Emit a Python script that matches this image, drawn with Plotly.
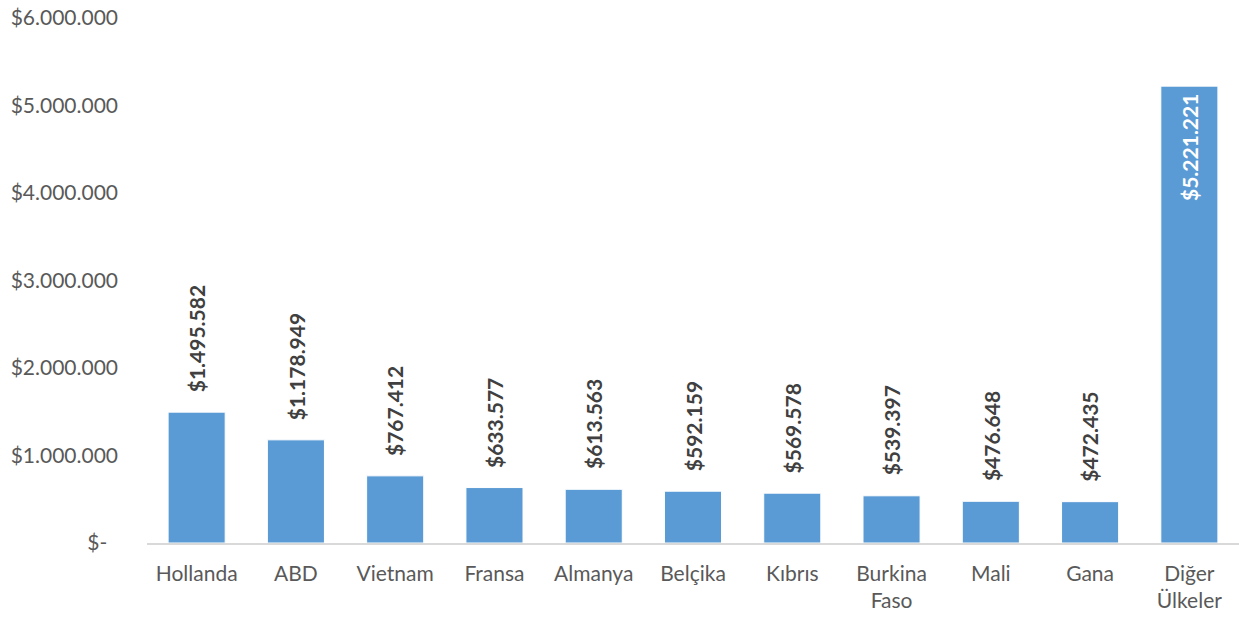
import plotly.graph_objects as go

categories = ["Hollanda", "ABD", "Vietnam", "Fransa", "Almanya", "Belçika", "Kıbrıs",
              "Burkina<br>Faso", "Mali", "Gana", "Diğer<br>Ülkeler"]
values = [1495582, 1178949, 767412, 633577, 613563, 592159, 569578, 539397, 476648, 472435, 5221221]
tick_vals = [0, 1000000, 2000000, 3000000, 4000000, 5000000, 6000000]
tick_text = ["$-  ", "$1.000.000", "$2.000.000", "$3.000.000", "$4.000.000", "$5.000.000", "$6.000.000"]

def fmt(v):
    return "$" + f"{v:,}".replace(",", ".")

FONT = "Lato, Carlito, Calibri, sans-serif"

fig = go.Figure(go.Bar(
    x=categories, y=values,
    marker=dict(color="#5B9BD5", line=dict(color="white", width=1)),
    width=0.575,
    hoverinfo="skip",
))

annotations = []
max_v = max(values)
for c, v in zip(categories, values):
    if v == max_v:
        annotations.append(dict(x=c, y=v, text=fmt(v), textangle=-90, showarrow=False,
                                yanchor="top", yshift=-6,
                                font=dict(family=FONT, size=21, color="white", weight="bold")))
    else:
        annotations.append(dict(x=c, y=v, text=fmt(v), textangle=-90, showarrow=False,
                                yanchor="bottom", yshift=18,
                                font=dict(family=FONT, size=21, color="#404040", weight="bold")))

fig.update_layout(
    width=1239, height=619,
    margin=dict(l=147, r=0, t=18, b=76),
    plot_bgcolor="white", paper_bgcolor="white",
    showlegend=False,
    annotations=annotations,
    font=dict(family=FONT, size=21, color="#595959"),
    xaxis=dict(showline=True, linecolor="#D9D9D9", linewidth=1.5, ticks="",
               ticklabelstandoff=11,
               tickfont=dict(family=FONT, size=21, color="#595959"), showgrid=False),
    yaxis=dict(range=[0, 6000000], tickvals=tick_vals, ticktext=tick_text,
               showgrid=False, zeroline=False, showline=False, ticks="",
               ticklabelstandoff=28,
               tickfont=dict(family=FONT, size=21, color="#595959")),
)

fig.write_html("out.html", config={"displayModeBar": False},
               post_script="document.body.style.margin='0';")
